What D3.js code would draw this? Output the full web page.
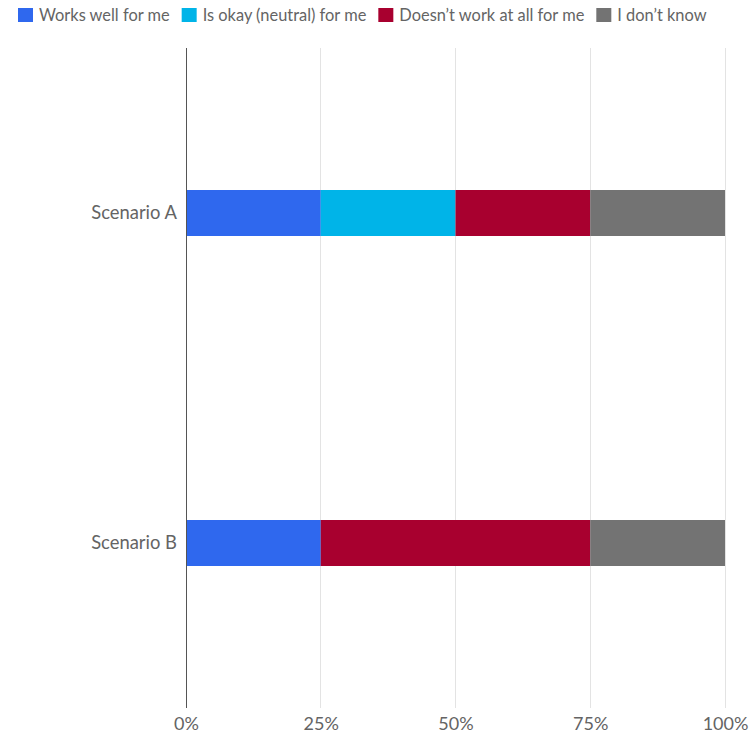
<!DOCTYPE html>
<html><head><meta charset="utf-8">
<script src="https://cdn.jsdelivr.net/npm/d3@7"></script>
<style>body{margin:0;background:#fff;font-family:Lato,"Noto Sans",sans-serif;}</style>
</head><body><svg id="c" width="756" height="733"></svg>
<script>
const categories = ["Scenario A", "Scenario B"];
const seriesNames = ["Works well for me", "Is okay (neutral) for me", "Doesn\u2019t work at all for me", "I don\u2019t know"];
const worksWell = [0.25, 0.25];
const okay = [0.25, 0.0];
const doesntWork = [0.25, 0.50];
const dontKnow = [0.25, 0.25];
const tickValues = [0, 0.25, 0.5, 0.75, 1];
const colors = ["#2f68ee", "#00b4e8", "#a8002f", "#737373"];

(function () {
const svg = d3.select("#c");
const pLeft = 186, pRight = 725, pTop = 48, pBottom = 708;
const x = d3.scaleLinear().domain([0, 1]).range([pLeft, pRight]);
const y = d3.scalePoint().domain(categories).range([pTop, pBottom]).padding(0.5);
const barH = 46;
const textCol = "#646464";

// gridlines
svg.append("g").selectAll("line").data(tickValues.slice(1)).join("line")
  .attr("x1", d => x(d)).attr("x2", d => x(d)).attr("y1", pTop).attr("y2", pBottom)
  .attr("stroke", "#e3e3e3").attr("stroke-width", 1).attr("shape-rendering", "crispEdges");

const series = [worksWell, okay, doesntWork, dontKnow];
const rows = categories.map((c, i) => {
  const r = {cat: c};
  seriesNames.forEach((s, j) => r[s] = series[j][i]);
  return r;
});
const stacked = d3.stack().keys(seriesNames)(rows);
svg.append("g").selectAll("g").data(stacked).join("g")
  .attr("fill", (d, i) => colors[i])
  .selectAll("rect").data(d => d.filter(v => v[1] - v[0] > 0)).join("rect")
  .attr("x", d => x(d[0])).attr("width", d => x(d[1]) - x(d[0]))
  .attr("y", d => y(d.data.cat) - barH / 2).attr("height", barH);

// axis line
svg.append("line").attr("x1", pLeft + 0.5).attr("x2", pLeft + 0.5).attr("y1", pTop).attr("y2", pBottom)
  .attr("stroke", "#555").attr("stroke-width", 1);

// x labels
const xa = svg.append("g").attr("transform", `translate(0,${pBottom})`)
  .call(d3.axisBottom(x).tickValues(tickValues).tickFormat(d3.format(".0%")).tickSize(0).tickPadding(9));
xa.select(".domain").remove();
xa.selectAll("text").attr("font-family", "Lato").attr("font-size", 18).attr("fill", textCol);

// y labels
const ya = svg.append("g").attr("transform", `translate(${pLeft},0)`)
  .call(d3.axisLeft(y).tickSize(0).tickPadding(9));
ya.select(".domain").remove();
ya.selectAll("text").attr("font-family", "Lato").attr("font-size", 18.4).attr("fill", textCol);

// legend
const lg = svg.append("g");
let lx = 18;
seriesNames.forEach((s, i) => {
  lg.append("rect").attr("x", lx).attr("y", 8).attr("width", 15).attr("height", 14).attr("fill", colors[i]);
  const t = lg.append("text").attr("x", lx + 21).attr("y", 21).text(s)
    .attr("font-family", "Lato").attr("font-size", 16.4).attr("fill", textCol);
  lx += 21 + t.node().getComputedTextLength() + 12;
});
})();
</script></body></html>
